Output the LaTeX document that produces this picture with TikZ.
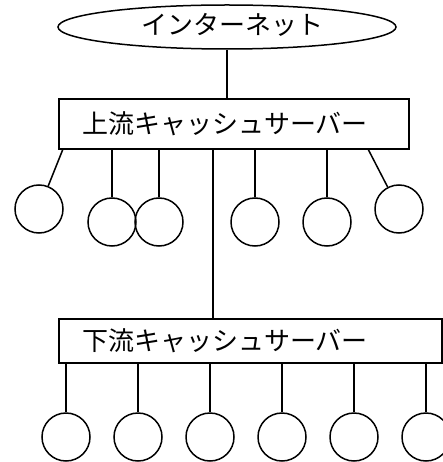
\documentclass[tikz,border=0pt]{standalone}
\usepackage{fontspec}
\setmainfont{Noto Sans CJK JP}
\usetikzlibrary{shapes.geometric}
\begin{document}
\begin{tikzpicture}[x=1pt,y=-1pt,line width=1.5pt,
  pc/.style={draw,circle,minimum size=48pt,inner sep=0pt},
  srv/.style={draw,rectangle,inner xsep=23pt,inner ysep=0pt,align=left,
    font=\fontsize{26}{30}\selectfont},
  lbl/.style={font=\fontsize{26}{30}\selectfont,inner sep=0pt}]
\useasboundingbox (0,0) rectangle (443,462);
\clip (0,0) rectangle (443,462);
% internet
\node[draw,ellipse,minimum width=338pt,minimum height=44pt,inner sep=0pt] (inet) at (227,27) {};
\node[lbl] (inettext) at (232,25) {インターネット};
% servers
\node[srv,minimum width=350pt,minimum height=50pt,text width=304pt] (up) at (234,124) {上流キャッシュサーバー};
\node[srv,minimum width=383pt,minimum height=44pt,text width=337pt] (down) at (250.5,341) {下流キャッシュサーバー};
\draw (inet.south) -- (inet.south |- up.north);
\coordinate (trunk) at (213,0);
\draw (up.south -| trunk) -- (down.north -| trunk);
% upper clients
\node[pc] (c1) at (39,209) {};
\node[pc] (c2) at (112,222) {};
\node[pc] (c3) at (159,222) {};
\node[pc] (c4) at (255,222) {};
\node[pc] (c5) at (327,222) {};
\node[pc] (c6) at (399,209) {};
\coordinate (a1) at (63,149);
\coordinate (a6) at (368,149);
\draw (a1) -- (c1);
\draw (a6) -- (c6);
\foreach \n in {c2,c3,c4,c5} \draw (up.south -| \n) -- (\n.north);
% lower clients
\foreach \n/\x in {d1/66,d2/138,d3/210,d4/282,d5/354,d6/426} {
  \node[pc] (\n) at (\x,437) {};
  \draw (down.south -| \n) -- (\n.north);
}
\end{tikzpicture}
\end{document}
